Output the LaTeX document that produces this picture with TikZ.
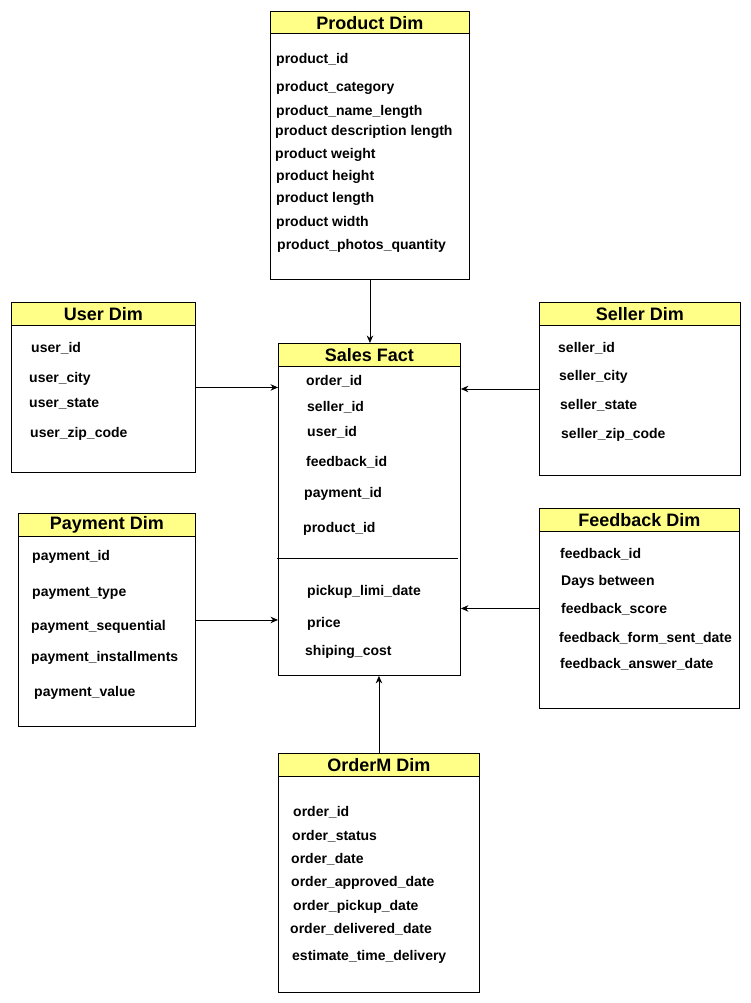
\documentclass[tikz,border=0pt]{standalone}
\usepackage{fontspec}
\setmainfont{Liberation Sans}
\usetikzlibrary{positioning, arrows.meta}
\definecolor{dimyellow}{HTML}{FFFF88}

\begin{document}
\begin{tikzpicture}[x=1pt, y=-1pt,
        tablebox/.style={draw, line width=0.9pt, fill=white, anchor=north west, inner sep=0pt},
        tablehead/.style={draw, line width=0.9pt, fill=dimyellow, anchor=north, inner sep=0pt,
            minimum height=22.5pt, font=\fontsize{18}{20}\selectfont\bfseries},
        field/.style={anchor=west, inner sep=0pt, text height=12pt, text depth=2pt,
            font=\fontsize{14}{16}\selectfont\bfseries},
        link/.style={line width=0.9pt, -{Stealth[length=7.5pt, width=6.5pt]}}
    ]
      \useasboundingbox (0,0) rectangle (751,1003);

      % tables
      \node[tablebox, minimum width=199pt, minimum height=268pt] (product) at (270,11) {};
      \node[tablehead, minimum width=199pt] (producthead) at (product.north) {Product Dim};
      \node[tablebox, minimum width=184pt, minimum height=170pt] (user) at (11,302) {};
      \node[tablehead, minimum width=184pt] (userhead) at (user.north) {User Dim};
      \node[tablebox, minimum width=177pt, minimum height=213pt] (payment) at (18,513) {};
      \node[tablehead, minimum width=177pt] (paymenthead) at (payment.north) {Payment Dim};
      \node[tablebox, minimum width=182pt, minimum height=332pt] (fact) at (278,343) {};
      \node[tablehead, minimum width=182pt] (facthead) at (fact.north) {Sales Fact};
      \node[tablebox, minimum width=201pt, minimum height=173pt] (seller) at (539,302) {};
      \node[tablehead, minimum width=201pt] (sellerhead) at (seller.north) {Seller Dim};
      \node[tablebox, minimum width=200pt, minimum height=200pt] (feedback) at (539,508) {};
      \node[tablehead, minimum width=200pt] (feedbackhead) at (feedback.north) {Feedback Dim};
      \node[tablebox, minimum width=201pt, minimum height=239pt] (orderm) at (278,753) {};
      \node[tablehead, minimum width=201pt] (ordermhead) at (orderm.north) {OrderM Dim};
      \draw[line width=0.9pt] (277,558) -- (458,558);

      % fields
      \foreach \x/\y/\t [count=\i] in {276/59/product\_id, 276/87/product\_category,
          276/111/product\_name\_length, 275/131/product description length,
          275/154/product weight, 276/176/product height, 276/197/product length,
          276/221/product width, 277/244/product\_photos\_quantity}
        \node[field] (product\i) at (\x,\y) {\t};
      \foreach \x/\y/\t [count=\i] in {31/347/user\_id, 29/377/user\_city,
          29/402/user\_state, 30/432/user\_zip\_code}
        \node[field] (user\i) at (\x,\y) {\t};
      \foreach \x/\y/\t [count=\i] in {32/555/payment\_id, 32/591/payment\_type,
          31/625/payment\_sequential, 31/656/payment\_installments, 34/691/payment\_value}
        \node[field] (payment\i) at (\x,\y) {\t};
      \foreach \x/\y/\t [count=\i] in {306/380/order\_id, 307/406/seller\_id,
          307/431/user\_id, 306/461/feedback\_id, 304/492/payment\_id,
          303/527/product\_id, 307/590/pickup\_limi\_date, 307/622/price,
          305/650/shiping\_cost}
        \node[field] (fact\i) at (\x,\y) {\t};
      \foreach \x/\y/\t [count=\i] in {558/347/seller\_id, 559/375/seller\_city,
          560/404/seller\_state, 561/433/seller\_zip\_code}
        \node[field] (seller\i) at (\x,\y) {\t};
      \foreach \x/\y/\t [count=\i] in {560/553/feedback\_id, 561/580/Days between,
          561/608/feedback\_score, 559/637/feedback\_form\_sent\_date,
          560/663/feedback\_answer\_date}
        \node[field] (feedback\i) at (\x,\y) {\t};
      \foreach \x/\y/\t [count=\i] in {293/811/order\_id, 292/835/order\_status,
          291/858/order\_date, 291/881/order\_approved\_date, 293/905/order\_pickup\_date,
          290/928/order\_delivered\_date, 292/955/estimate\_time\_delivery}
        \node[field] (orderm\i) at (\x,\y) {\t};

      % links to the fact table
      \draw[link] (product.south) -- (product.south |- fact.north);
      \draw[link] (user.east) -- (user.east -| fact.west);
      \draw[link] (payment.east) -- (payment.east -| fact.west);
      \draw[link] (seller.west) -- (seller.west -| fact.east);
      \draw[link] (feedback.west) -- (feedback.west -| fact.east);
      \draw[link] (orderm.north) -- (orderm.north |- fact.south);
    \end{tikzpicture}
\end{document}
